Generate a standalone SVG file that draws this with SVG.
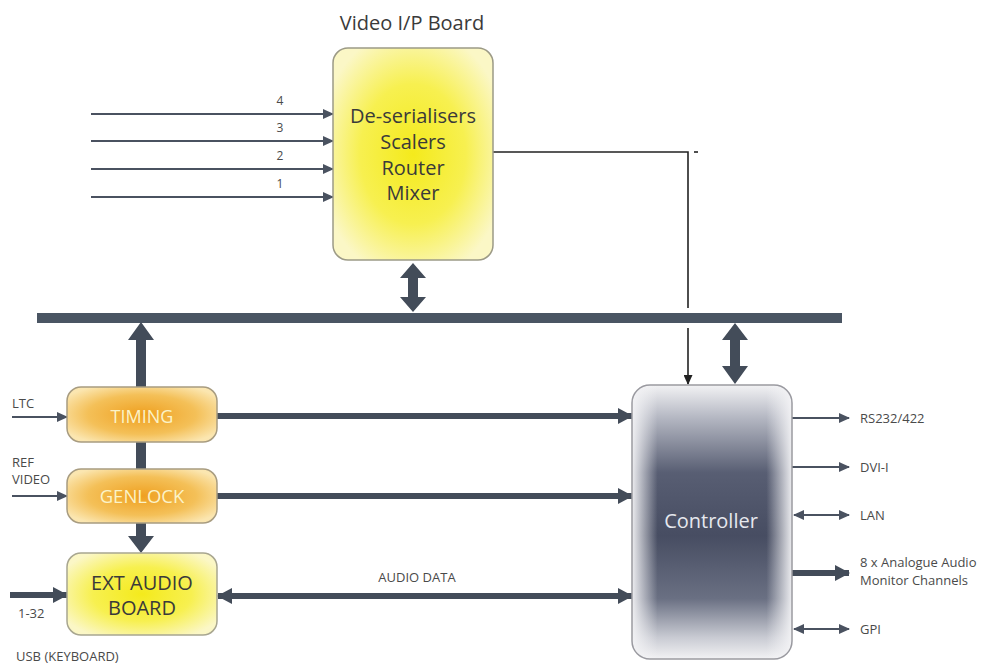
<svg xmlns="http://www.w3.org/2000/svg" width="992" height="664" viewBox="0 0 992 664">
<defs>
<radialGradient id="gYellow" cx="0.5" cy="0.5" r="0.6">
<stop offset="0" stop-color="#f4ea1c"/>
<stop offset="0.55" stop-color="#f7f050"/>
<stop offset="1" stop-color="#fbf7c6"/>
</radialGradient>
<radialGradient id="gOrange" cx="0.5" cy="0.5" r="0.6">
<stop offset="0" stop-color="#efa020"/>
<stop offset="0.6" stop-color="#f4c058"/>
<stop offset="1" stop-color="#fbe6b0"/>
</radialGradient>
<linearGradient id="gGreyV" x1="0" y1="0" x2="0" y2="1">
<stop offset="0" stop-color="#f2f2f4"/>
<stop offset="0.12" stop-color="#b4b7c2"/>
<stop offset="0.32" stop-color="#585e73"/>
<stop offset="0.55" stop-color="#474d62"/>
<stop offset="0.78" stop-color="#6a7083"/>
<stop offset="0.92" stop-color="#c8cad2"/>
<stop offset="1" stop-color="#f2f2f4"/>
</linearGradient>
<linearGradient id="gGreyH" x1="0" y1="0" x2="1" y2="0">
<stop offset="0" stop-color="#f4f4f6" stop-opacity="0.95"/>
<stop offset="0.16" stop-color="#f4f4f6" stop-opacity="0"/>
<stop offset="0.84" stop-color="#f4f4f6" stop-opacity="0"/>
<stop offset="1" stop-color="#f4f4f6" stop-opacity="0.95"/>
</linearGradient>
<marker id="ah" markerUnits="userSpaceOnUse" markerWidth="11" markerHeight="10" refX="10" refY="5" orient="auto">
<path d="M0,0 L11,5 L0,10 z" fill="#4a5260"/>
</marker>
<marker id="ahs" markerUnits="userSpaceOnUse" markerWidth="11" markerHeight="10" refX="1" refY="5" orient="auto">
<path d="M11,0 L0,5 L11,10 z" fill="#4a5260"/>
</marker>
<marker id="ahk" markerUnits="userSpaceOnUse" markerWidth="10" markerHeight="9" refX="9" refY="4.5" orient="auto">
<path d="M0,0 L10,4.5 L0,9 z" fill="#222"/>
</marker>
<marker id="AH" markerUnits="userSpaceOnUse" markerWidth="15" markerHeight="16" refX="14" refY="8" orient="auto">
<path d="M0,0 L15,8 L0,16 z" fill="#434c59"/>
</marker>
<marker id="AHs" markerUnits="userSpaceOnUse" markerWidth="15" markerHeight="16" refX="1" refY="8" orient="auto">
<path d="M15,0 L0,8 L15,16 z" fill="#434c59"/>
</marker>
</defs>
<style>
.t{font-family:"Open Sans","Liberation Sans",sans-serif;fill:#3a3a3a}
.lbl{font-size:13px;fill:#4a4a4a}
.num{font-size:12px;fill:#4a4a4a}
.node{font-size:20px;text-anchor:middle}
.thin{stroke:#4a5260;stroke-width:2;fill:none}
.thick{stroke:#434c59;stroke-width:6;fill:none}
.blk{stroke:#222;stroke-width:1.6;fill:none}
.big{fill:#434c59}
</style>
<rect width="992" height="664" fill="#ffffff"/>

<text class="t" x="412" y="30" font-size="20" text-anchor="middle" fill="#333">Video I/P Board</text>

<g id="connectors">
<line class="thin" x1="91" y1="114" x2="333" y2="114" marker-end="url(#ah)"/>
<line class="thin" x1="91" y1="141" x2="333" y2="141" marker-end="url(#ah)"/>
<line class="thin" x1="91" y1="169" x2="333" y2="169" marker-end="url(#ah)"/>
<line class="thin" x1="91" y1="197" x2="333" y2="197" marker-end="url(#ah)"/>
<text class="t num" x="280" y="105" text-anchor="middle">4</text>
<text class="t num" x="280" y="132" text-anchor="middle">3</text>
<text class="t num" x="280" y="160" text-anchor="middle">2</text>
<text class="t num" x="280" y="188" text-anchor="middle">1</text>
<polyline class="blk" points="493,152 688,152 688,308"/>
<line class="blk" x1="694" y1="152" x2="698" y2="152"/>
<line class="blk" x1="688" y1="328" x2="688" y2="384" marker-end="url(#ahk)"/>
<rect x="37" y="313" width="805" height="10" fill="#4a5563"/>
<path class="big" d="M413,263 L426,278 L418,278 L418,297 L426,297 L413,312 L400,297 L408,297 L408,278 L400,278 Z"/>
<path class="big" d="M141,322 L154,340 L146,340 L146,387 L136,387 L136,340 L128,340 Z"/>
<path class="big" d="M735,323 L748,340 L740,340 L740,366 L748,366 L735,384 L722,366 L730,366 L730,340 L722,340 Z"/>
<rect class="big" x="136" y="442" width="10" height="27"/>
<path class="big" d="M136,523 L146,523 L146,536 L154,536 L141,553 L128,536 L136,536 Z"/>
<line class="thin" x1="12" y1="417" x2="67" y2="417" marker-end="url(#ah)"/>
<line class="thin" x1="12" y1="496" x2="67" y2="496" marker-end="url(#ah)"/>
<text class="t lbl" x="12" y="408">LTC</text>
<text class="t lbl" x="12" y="467">REF</text>
<text class="t lbl" x="12" y="484">VIDEO</text>
<line class="thick" x1="216" y1="416" x2="632" y2="416" marker-end="url(#AH)"/>
<line class="thick" x1="216" y1="496" x2="632" y2="496" marker-end="url(#AH)"/>
<line class="thick" x1="10" y1="595" x2="67" y2="595" marker-end="url(#AH)"/>
<text class="t lbl" x="18" y="618">1-32</text>
<text class="t lbl" x="16" y="661">USB (KEYBOARD)</text>
<line class="thick" x1="218" y1="596" x2="632" y2="596" marker-start="url(#AHs)" marker-end="url(#AH)"/>
<text class="t lbl" x="417" y="582" text-anchor="middle">AUDIO DATA</text>
<line class="thin" x1="792" y1="418" x2="849" y2="418" marker-end="url(#ah)"/>
<text class="t lbl" x="860" y="423">RS232/422</text>
<line class="thin" x1="792" y1="467" x2="849" y2="467" marker-end="url(#ah)"/>
<text class="t lbl" x="860" y="472">DVI-I</text>
<line class="thin" x1="794" y1="515" x2="849" y2="515" marker-start="url(#ahs)" marker-end="url(#ah)"/>
<text class="t lbl" x="860" y="520">LAN</text>
<line class="thick" x1="792" y1="573" x2="849" y2="573" marker-end="url(#AH)"/>
<text class="t lbl" x="860" y="567">8 x Analogue Audio</text>
<text class="t lbl" x="860" y="585">Monitor Channels</text>
<line class="thin" x1="794" y1="629" x2="849" y2="629" marker-start="url(#ahs)" marker-end="url(#ah)"/>
<text class="t lbl" x="860" y="634">GPI</text>
</g>

<g id="video-board">
<rect x="333" y="48" width="160" height="212" rx="15" fill="url(#gYellow)" stroke="#9c9a86" stroke-width="1.5"/>
<text class="t node" x="413" y="123">De-serialisers</text>
<text class="t node" x="413" y="149">Scalers</text>
<text class="t node" x="413" y="175">Router</text>
<text class="t node" x="413" y="200">Mixer</text>
</g>

<g id="timing">
<rect x="67" y="387" width="150" height="55" rx="14" fill="url(#gOrange)" stroke="#a89c80" stroke-width="1.5"/>
<text class="t node" x="142" y="423" font-size="18" style="fill:#fbf3c8;font-size:18px">TIMING</text>
</g>

<g id="genlock">
<rect x="67" y="469" width="150" height="54" rx="14" fill="url(#gOrange)" stroke="#a89c80" stroke-width="1.5"/>
<text class="t node" x="142" y="503" style="fill:#fbf3c8;font-size:18.5px">GENLOCK</text>
</g>

<g id="ext-audio">
<rect x="67" y="553" width="150" height="82" rx="14" fill="url(#gYellow)" stroke="#a8a690" stroke-width="1.5"/>
<text class="t node" x="142" y="590">EXT AUDIO</text>
<text class="t node" x="142" y="615">BOARD</text>
</g>

<g id="controller">
<rect x="632" y="385" width="160" height="274" rx="18" fill="url(#gGreyV)"/>
<rect x="632" y="385" width="160" height="274" rx="18" fill="url(#gGreyH)" stroke="#9a9aa0" stroke-width="1.5"/>
<text class="t node" x="711" y="528" style="fill:#e6e8ee">Controller</text>
</g>
</svg>
